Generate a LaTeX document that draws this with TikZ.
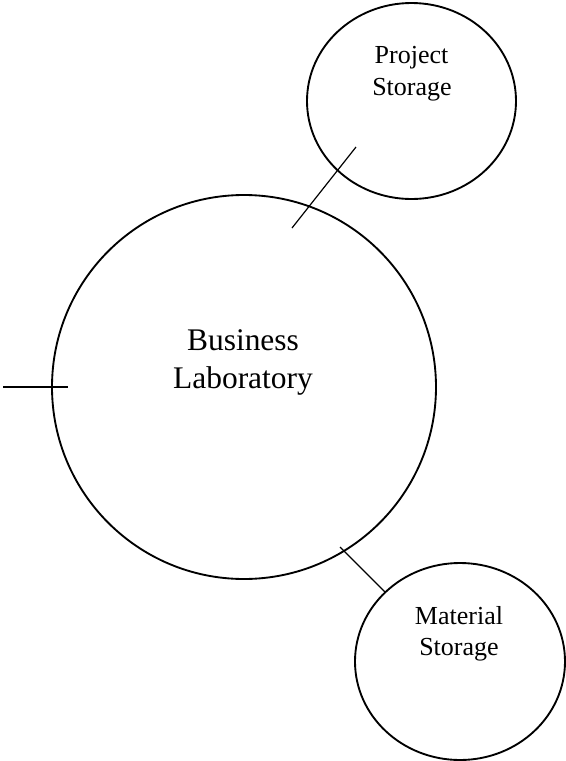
\documentclass[tikz,border=0pt]{standalone}
\usepackage{fontspec}
\setmainfont{Liberation Serif}
\usetikzlibrary{shapes.geometric}
\begin{document}
\begin{tikzpicture}[x=0.75pt,y=-0.75pt,
  bubble/.style={draw=black,line width=1.4pt,ellipse,inner sep=0pt,outer sep=0pt},
  link/.style={draw=black,line width=0.9pt},
  bigtext/.style={anchor=base,inner sep=0pt,font=\fontsize{23.6pt}{28.5pt}\selectfont},
  smalltext/.style={anchor=base,inner sep=0pt,font=\fontsize{19.5pt}{24pt}\selectfont}]
\useasboundingbox (0,0) rectangle (566,761);
% circles
\node[bubble,minimum width=288pt,minimum height=288pt] (lab) at (244,387) {};
\node[bubble,minimum width=156.75pt,minimum height=147pt] (proj) at (411.5,101) {};
\node[bubble,minimum width=157.5pt,minimum height=147.75pt] (mat) at (460,661.5) {};
% labels
\node[bigtext] (lab1) at (243,350) {Business};
\node[bigtext] (lab2) at (243,388) {Laboratory};
\node[smalltext] (proj1) at (411.5,63) {Project};
\node[smalltext] (proj2) at (412,95) {Storage};
\node[smalltext] (mat1) at (459,624) {Material};
\node[smalltext] (mat2) at (459,655) {Storage};
% connectors
\coordinate (la) at (3,387);
\coordinate (lb) at (68,387);
\coordinate (pa) at (292,228);
\coordinate (pb) at (356,147);
\coordinate (ma) at (340,547);
\coordinate (mb) at (385,592);
\draw[link] (la) -- (lb);
\draw[link] (pa) -- (pb);
\draw[link] (ma) -- (mb);
\end{tikzpicture}
\end{document}
